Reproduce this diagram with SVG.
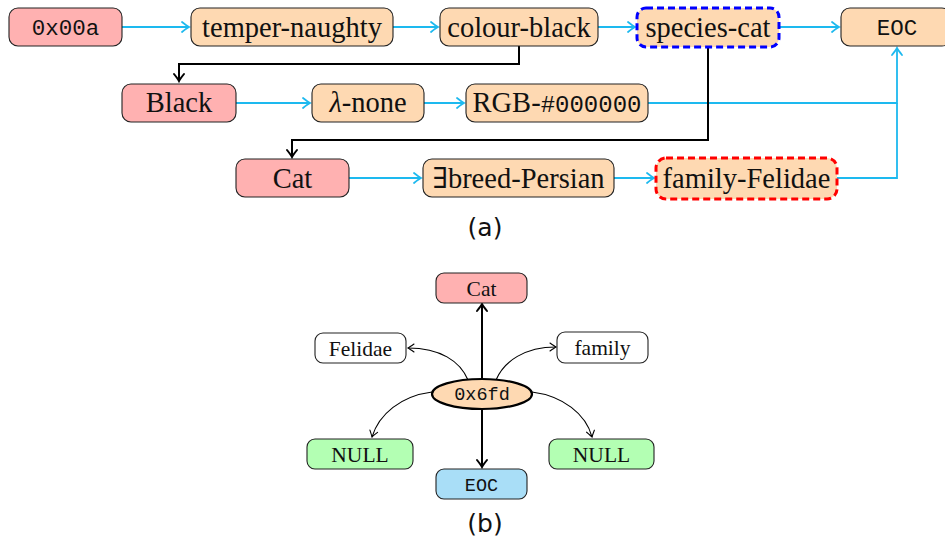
<svg xmlns="http://www.w3.org/2000/svg" width="945" height="541" viewBox="0 0 945 541">
<style>
.box{stroke:#222;stroke-width:1.1}
.red{fill:#ffb1b1}
.peach{fill:#fed9b2}
.green{fill:#b3ffb3}
.blue{fill:#a9def7}
.white{fill:#fff}
.t{font-family:"Liberation Serif","DejaVu Serif",serif;fill:#111;text-anchor:middle}
.m{font-family:"Liberation Mono","DejaVu Sans Mono",monospace;fill:#111;text-anchor:middle}
.s{font-family:"DejaVu Sans","Liberation Sans",sans-serif;fill:#111;text-anchor:middle}
.cy{fill:none;stroke:#1db9ef;stroke-width:1.8}
.bk{fill:none;stroke:#000;stroke-width:2}
.th{fill:none;stroke:#000;stroke-width:1.1}
</style>
<defs>
<marker id="ac" markerUnits="userSpaceOnUse" markerWidth="14" markerHeight="14" viewBox="-8 -7 10 14" refX="0" refY="0" orient="auto" overflow="visible">
<path d="M-7,-5 Q-2,-1 0,0 Q-2,1 -7,5" fill="none" stroke="#1db9ef" stroke-width="1.8" stroke-linecap="round"/>
</marker>
<marker id="ab" markerUnits="userSpaceOnUse" markerWidth="14" markerHeight="14" viewBox="-8 -7 10 14" refX="0" refY="0" orient="auto" overflow="visible">
<path d="M-7,-5 Q-2,-1 0,0 Q-2,1 -7,5" fill="none" stroke="#000" stroke-width="2" stroke-linecap="round"/>
</marker>
<marker id="at" markerUnits="userSpaceOnUse" markerWidth="12" markerHeight="12" viewBox="-7 -6 8 12" refX="0" refY="0" orient="auto" overflow="visible">
<path d="M-6,-4 Q-1.5,-0.8 0,0 Q-1.5,0.8 -6,4" fill="none" stroke="#000" stroke-width="1.1" stroke-linecap="round"/>
</marker>
</defs>

<g id="connectors">
<path class="cy" d="M122,27 H189" marker-end="url(#ac)"/>
<path class="cy" d="M393,27 H438" marker-end="url(#ac)"/>
<path class="cy" d="M598,27 H635" marker-end="url(#ac)"/>
<path class="cy" d="M779,27 H839" marker-end="url(#ac)"/>
<path class="cy" d="M236,103 H310" marker-end="url(#ac)"/>
<path class="cy" d="M424,103 H464" marker-end="url(#ac)"/>
<path class="cy" d="M648,103 H897 V48" marker-end="url(#ac)"/>
<path class="cy" d="M837,178 H897 V103"/>
<path class="cy" d="M349,178 H421" marker-end="url(#ac)"/>
<path class="cy" d="M614,178 H654" marker-end="url(#ac)"/>
<path class="bk" d="M519,46 V64 H179 V81" marker-end="url(#ab)"/>
<path class="bk" d="M708,48 V140 H292 V157" marker-end="url(#ab)"/>
<path class="bk" d="M482,379 V304" marker-end="url(#ab)"/>
<path class="bk" d="M482,409 V467" marker-end="url(#ab)"/>
<path class="th" d="M468,380 C460,361 440,348 408,348" marker-end="url(#at)"/>
<path class="th" d="M496,380 C504,361 525,347 556,347" marker-end="url(#at)"/>
<path class="th" d="M432,392 C401,396 379,414 372,437" marker-end="url(#at)"/>
<path class="th" d="M532,392 C563,396 586,414 592,437" marker-end="url(#at)"/>
</g>

<g id="n-0x00a"><rect class="box red" x="9" y="8" width="113" height="38" rx="9"/><text class="m" x="65.5" y="35" font-size="22.5">0x00a</text></g>
<g id="n-temper"><rect class="box peach" x="191" y="8" width="202" height="38" rx="9"/><text class="t" x="292" y="36.5" font-size="28.5">temper-naughty</text></g>
<g id="n-colour"><rect class="box peach" x="440" y="8" width="158" height="38" rx="9"/><text class="t" x="519" y="36.5" font-size="28.5">colour-black</text></g>
<g id="n-species"><rect x="637" y="8" width="142" height="39" rx="9" fill="#fed9b2" stroke="#0000ff" stroke-width="3" stroke-dasharray="7,4"/><text class="t" x="708" y="36.5" font-size="28.5">species-cat</text></g>
<g id="n-eoc1"><rect class="box peach" x="841" y="8" width="110" height="38" rx="9"/><text class="m" x="897" y="35" font-size="22.5">EOC</text></g>

<g id="n-black"><rect class="box red" x="122" y="84" width="114" height="38" rx="9"/><text class="t" x="179" y="112" font-size="28.5">Black</text></g>
<g id="n-lambda"><rect class="box peach" x="312" y="84" width="112" height="38" rx="9"/><text class="t" x="368" y="112" font-size="28.5"><tspan font-style="italic">λ</tspan>-none</text></g>
<g id="n-rgb"><rect class="box peach" x="466" y="84" width="182" height="38" rx="9"/><text class="t" x="557" y="112" font-size="28.5">RGB-<tspan class="m" font-size="24">#000000</tspan></text></g>

<g id="n-cat"><rect class="box red" x="236" y="159" width="113" height="38" rx="9"/><text class="t" x="292.5" y="187.5" font-size="28.5">Cat</text></g>
<g id="n-breed"><rect class="box peach" x="423" y="159" width="191" height="38" rx="9"/><text class="t" x="518.5" y="187.5" font-size="28.5">∃breed-Persian</text></g>
<g id="n-family"><rect x="656" y="158" width="181" height="41" rx="10" fill="#fed9b2" stroke="#ff0000" stroke-width="3" stroke-dasharray="7,4"/><text class="t" x="746.5" y="187.5" font-size="28.5">family-Felidae</text></g>

<text class="s" x="485" y="236" font-size="25">(a)</text>

<g id="b-cat"><rect class="box red" x="436" y="273" width="91" height="30" rx="8"/><text class="t" x="481.5" y="295.5" font-size="21.5">Cat</text></g>
<g id="b-felidae"><rect class="box white" x="315" y="333" width="91" height="30" rx="8"/><text class="t" x="360.5" y="355.5" font-size="21.5">Felidae</text></g>
<g id="b-family"><rect class="box white" x="557" y="332" width="91" height="31" rx="8"/><text class="t" x="602.5" y="355" font-size="21.5">family</text></g>
<g id="b-0x6fd"><ellipse cx="482" cy="394" rx="50" ry="15" fill="#fed9b2" stroke="#000" stroke-width="2.2"/><text class="m" x="482" y="400" font-size="18.5">0x6fd</text></g>
<g id="b-null1"><rect class="box green" x="307" y="439" width="106" height="30" rx="8"/><text class="t" x="360" y="461.5" font-size="21.5">NULL</text></g>
<g id="b-eoc"><rect class="box blue" x="436" y="469" width="91" height="30" rx="8"/><text class="m" x="481.5" y="490.5" font-size="18.5">EOC</text></g>
<g id="b-null2"><rect class="box green" x="549" y="439" width="105" height="30" rx="8"/><text class="t" x="601.5" y="461.5" font-size="21.5">NULL</text></g>

<text class="s" x="485" y="532" font-size="25">(b)</text>
</svg>
